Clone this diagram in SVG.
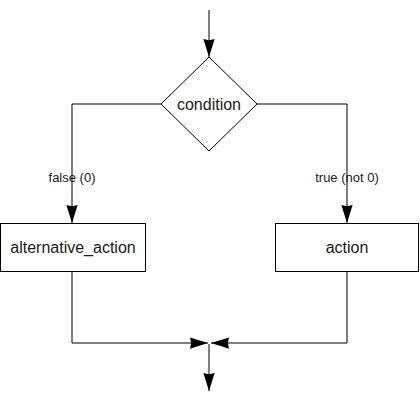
<svg xmlns="http://www.w3.org/2000/svg" width="420" height="401" viewBox="0 0 420 401">
<style>
.shape{fill:#fff;stroke:#000;stroke-width:1}
.edge{fill:none;stroke:#000;stroke-width:1}
.nt{font-family:"Liberation Sans",Arial,sans-serif;font-size:16px;fill:#1a1a1a;text-anchor:middle}
.lt{font-family:"Liberation Sans",Arial,sans-serif;font-size:13px;fill:#1a1a1a;text-anchor:middle}
</style>
<defs>
<marker id="arr" markerUnits="userSpaceOnUse" markerWidth="18" markerHeight="12" refX="16" refY="5" orient="auto" viewBox="0 0 16 10">
<path d="M0,0 L16,5 L0,10 L1,5 Z" fill="#000"/>
</marker>
</defs>
<rect width="420" height="401" fill="#fff"/>
<g id="connectors">
<path class="edge" d="M209,10 L209,57" marker-end="url(#arr)"/>
<path class="edge" d="M161,104 L72,104 L72,223" marker-end="url(#arr)"/>
<path class="edge" d="M257,104 L347,104 L347,223" marker-end="url(#arr)"/>
<path class="edge" d="M72,271 L72,343 L208,343" marker-end="url(#arr)"/>
<path class="edge" d="M347,271 L347,343 L211,343" marker-end="url(#arr)"/>
<path class="edge" d="M209,344 L209,391" marker-end="url(#arr)"/>
<text class="lt" x="72" y="182">false (0)</text>
<text class="lt" x="347" y="182">true (not 0)</text>
</g>
<g id="condition">
<polygon class="shape" points="209,57 257,104 209,151 161,104"/>
<text class="nt" x="209" y="110">condition</text>
</g>
<g id="alternative_action">
<rect class="shape" x="0.5" y="223.5" width="145" height="48"/>
<text class="nt" x="73" y="253">alternative_action</text>
</g>
<g id="action">
<rect class="shape" x="275.5" y="223.5" width="143" height="48"/>
<text class="nt" x="347" y="253">action</text>
</g>
</svg>
